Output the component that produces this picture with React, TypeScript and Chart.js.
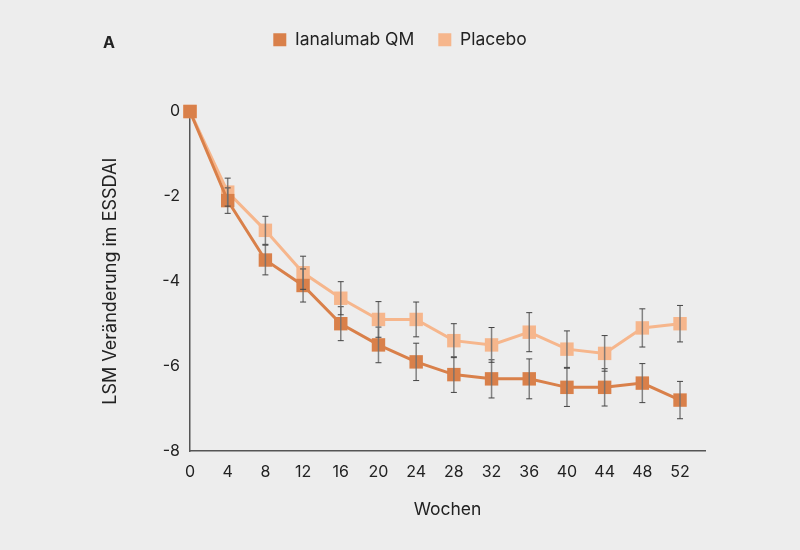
import React, { useEffect, useRef } from 'react';
import { Chart, registerables } from 'chart.js';

Chart.register(...registerables);

const weeks = [0, 4, 8, 12, 16, 20, 24, 28, 32, 36, 40, 44, 48, 52];
const ianalumab = [0, -2.1, -3.5, -4.1, -5.0, -5.5, -5.9, -6.2, -6.3, -6.3, -6.5, -6.5, -6.4, -6.8];
const placebo = [0, -1.9, -2.8, -3.8, -4.4, -4.9, -4.9, -5.4, -5.5, -5.2, -5.6, -5.7, -5.1, -5.0];
const ianalumabErr = [0, 0.3, 0.35, 0.39, 0.4, 0.42, 0.44, 0.42, 0.45, 0.47, 0.45, 0.44, 0.46, 0.44];
const placeboErr = [0, 0.33, 0.33, 0.39, 0.39, 0.42, 0.41, 0.4, 0.41, 0.46, 0.43, 0.42, 0.45, 0.43];

const FONT = 'Inter, Roboto, "Noto Sans", sans-serif';
const TEXT = '#222222';

// vertical error bars with small caps, drawn over the lines
const errorBars = {
    id: 'errorBars',
    afterDatasetsDraw(chart: any) {
        const { ctx, scales } = chart;
        const x = scales.x;
        const y = scales.y;
        chart.data.datasets.forEach((ds: any) => {
            const errs: number[] = ds.errors || [];
            ds.data.forEach((p: any, i: number) => {
                const e = errs[i];
                if (!e) return;
                const px = x.getPixelForValue(p.x);
                const top = y.getPixelForValue(p.y + e);
                const bot = y.getPixelForValue(p.y - e);
                ctx.save();
                ctx.strokeStyle = 'rgba(110,110,110,0.85)';
                ctx.lineWidth = 1.5;
                ctx.beginPath();
                ctx.moveTo(px, top);
                ctx.lineTo(px, bot);
                ctx.stroke();
                ctx.strokeStyle = '#444444';
                ctx.lineWidth = 1;
                ctx.beginPath();
                ctx.moveTo(px - 3, top);
                ctx.lineTo(px + 3, top);
                ctx.moveTo(px - 3, bot);
                ctx.lineTo(px + 3, bot);
                ctx.stroke();
                ctx.restore();
            });
        });
    },
};

// extra room between legend and plot
const legendSpacing = {
    id: 'legendSpacing',
    beforeInit(chart: any) {
        const legend = chart.legend;
        if (!legend) return;
        const fit = legend.fit;
        legend.fit = function () {
            fit.bind(legend)();
            this.height += 53;
        };
    },
};

const panelLabel = {
    id: 'panelLabel',
    afterDraw(chart: any) {
        const { ctx } = chart;
        ctx.save();
        ctx.font = `bold 16px ${FONT}`;
        ctx.fillStyle = TEXT;
        ctx.textBaseline = 'middle';
        ctx.fillText('A', 103, 43);
        ctx.restore();
    },
};

const App: React.FC = () => {
    const chartRef = useRef<HTMLCanvasElement>(null);
    const chartInstance = useRef<Chart | null>(null);

    useEffect(() => {
        document.body.style.margin = '0';
        if (!chartRef.current) return;
        if (chartInstance.current) chartInstance.current.destroy();

        chartInstance.current = new Chart(chartRef.current, {
            type: 'line',
            data: {
                datasets: [
                    {
                        label: 'Ianalumab QM',
                        data: weeks.map((w, i) => ({ x: w, y: ianalumab[i] })),
                        errors: ianalumabErr,
                        borderColor: '#D9804A',
                        backgroundColor: '#D9804A',
                        borderWidth: 3,
                        pointStyle: 'rect',
                        pointRadius: 9.5,
                        pointHoverRadius: 9.5,
                        pointBorderWidth: 0,
                        clip: false,
                    } as any,
                    {
                        label: 'Placebo',
                        data: weeks.map((w, i) => ({ x: w, y: placebo[i] })),
                        errors: placeboErr,
                        borderColor: '#F6B68C',
                        backgroundColor: '#F6B68C',
                        borderWidth: 3,
                        pointStyle: 'rect',
                        pointRadius: 9.5,
                        pointHoverRadius: 9.5,
                        pointBorderWidth: 0,
                        clip: false,
                    } as any,
                ],
            },
            options: {
                animation: false,
                responsive: true,
                maintainAspectRatio: false,
                layout: { padding: { top: 7, left: 95, right: 95, bottom: 0 } },
                scales: {
                    x: {
                        type: 'linear',
                        min: 0,
                        max: 54.65,
                        grid: { display: false, drawTicks: false },
                        border: { display: true, color: '#555555', width: 1.5 },
                        ticks: {
                            stepSize: 4,
                            includeBounds: false,
                            color: TEXT,
                            padding: 12,
                            font: { family: FONT, size: 16 },
                        },
                        title: {
                            display: true,
                            text: 'Wochen',
                            color: TEXT,
                            font: { family: FONT, size: 17.5 },
                            padding: { top: 0, bottom: 30 },
                        },
                        afterFit: (scale: any) => {
                            scale.height = 99;
                        },
                    },
                    y: {
                        min: -8,
                        max: 0,
                        grid: { display: false, drawTicks: false },
                        border: { display: true, color: '#555555', width: 1.5 },
                        ticks: {
                            stepSize: 2,
                            color: TEXT,
                            padding: 10,
                            font: { family: FONT, size: 16 },
                        },
                        title: {
                            display: true,
                            text: 'LSM Veränderung im ESSDAI',
                            color: TEXT,
                            font: { family: FONT, size: 18 },
                            padding: { top: 5, bottom: 0 },
                        },
                        afterFit: (scale: any) => {
                            scale.width = 95;
                        },
                    },
                },
                plugins: {
                    legend: {
                        display: true,
                        position: 'top',
                        labels: {
                            boxWidth: 13,
                            boxHeight: 13,
                            padding: 24,
                            color: TEXT,
                            font: { family: FONT, size: 17.5 },
                            generateLabels: (chart: any) =>
                                chart.data.datasets.map((ds: any, i: number) => ({
                                    text: ds.label,
                                    fillStyle: ds.backgroundColor,
                                    strokeStyle: ds.backgroundColor,
                                    lineWidth: 0,
                                    fontColor: TEXT,
                                    datasetIndex: i,
                                    hidden: false,
                                })),
                        },
                    },
                    tooltip: { enabled: false },
                },
            } as any,
            plugins: [errorBars, legendSpacing, panelLabel],
        });

        return () => {
            if (chartInstance.current) {
                chartInstance.current.destroy();
                chartInstance.current = null;
            }
        };
    }, []);

    return (
        <div style={{ position: 'absolute', left: 0, top: 0, width: 800, height: 550, background: '#EDEDED' }}>
            <canvas ref={chartRef}></canvas>
        </div>
    );
};

export default App;
